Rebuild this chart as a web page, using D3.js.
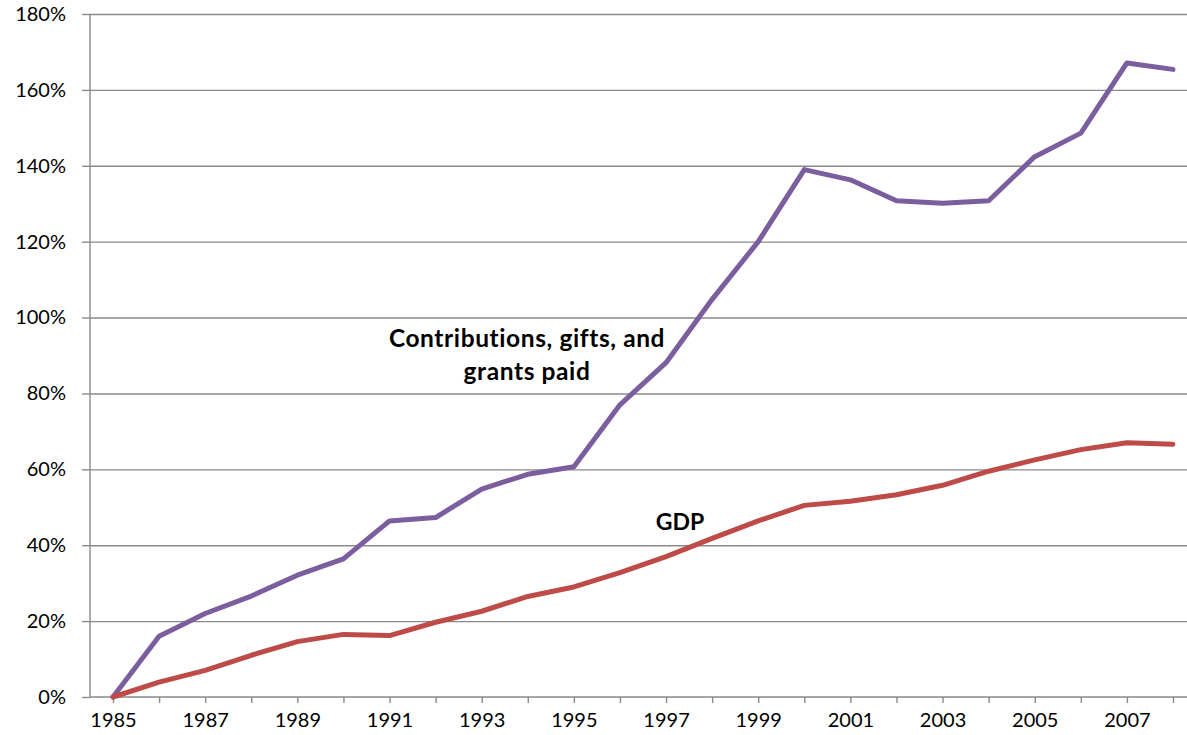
<!DOCTYPE html>
<html>
<head>
<meta charset="utf-8">
<title>Contributions vs GDP</title>
<style>
  body { margin: 0; background: #fff; }
  svg { display: block; }
  .tick text { font-family: Lato, "Open Sans", sans-serif; font-size: 20px; fill: #000; }
</style>
</head>
<body>
<script src="https://cdn.jsdelivr.net/npm/d3@7"></script>
<script>
// data (growth since 1985, in %)
var years = [1985, 1986, 1987, 1988, 1989, 1990, 1991, 1992, 1993, 1994, 1995, 1996,
             1997, 1998, 1999, 2000, 2001, 2002, 2003, 2004, 2005, 2006, 2007, 2008];
var contributions = [0, 16.0, 22.0, 26.6, 32.1, 36.4, 46.4, 47.3, 54.8, 58.7, 60.7, 77.0,
                     88.1, 104.8, 120.0, 139.0, 136.3, 130.8, 130.1, 130.8, 142.4, 148.6, 167.1, 165.4];
var gdp = [0, 3.9, 7.0, 11.0, 14.6, 16.5, 16.2, 19.7, 22.6, 26.5, 29.0, 32.8,
           37.0, 41.8, 46.4, 50.5, 51.6, 53.3, 55.8, 59.5, 62.5, 65.2, 67.0, 66.6];
var yTicks = [0, 20, 40, 60, 80, 100, 120, 140, 160, 180];
var xLabelYears = [1985, 1987, 1989, 1991, 1993, 1995, 1997, 1999, 2001, 2003, 2005, 2007];

var W = 1187, H = 735;
var plotLeft = 90, plotRight = 1187, plotTop = 14, plotBottom = 697;

var svg = d3.select("body").append("svg")
  .attr("width", W)
  .attr("height", H);

// scales
var x = d3.scaleLinear().domain([1985, 2008]).range([113, 1173]);
var y = d3.scaleLinear().domain([0, 180]).range([plotBottom, plotTop]);

// gridlines
svg.append("g")
  .attr("transform", "translate(" + plotLeft + ",0)")
  .call(d3.axisLeft(y).tickValues(yTicks.slice(1)).tickSize(-(plotRight - plotLeft)).tickFormat(""))
  .call(function(g){ g.select(".domain").remove(); })
  .selectAll("line")
  .attr("stroke", "#8a8a8a")
  .attr("stroke-width", 1.4);

// y axis
var yAxis = svg.append("g")
  .attr("transform", "translate(" + plotLeft + ",0)")
  .call(d3.axisLeft(y).tickValues(yTicks).tickSize(8).tickSizeOuter(0).tickPadding(16)
        .tickFormat(function(d){ return d + "%"; }));
yAxis.select(".domain").attr("stroke", "#8a8a8a").attr("stroke-width", 1.4)
  .attr("d", "M0," + y(0) + "V" + y(180));
yAxis.selectAll(".tick line").attr("stroke", "#8a8a8a").attr("stroke-width", 1.4);

// x axis
var xAxis = svg.append("g")
  .attr("transform", "translate(0," + plotBottom + ")")
  .call(d3.axisBottom(x).tickValues(years).tickSize(6).tickSizeOuter(0).tickPadding(10)
        .tickFormat(function(d){ return xLabelYears.indexOf(d) >= 0 ? d : ""; }));
xAxis.select(".domain").attr("stroke", "#8a8a8a").attr("stroke-width", 1.4)
  .attr("d", "M" + plotLeft + ",0H" + plotRight);
xAxis.selectAll(".tick line").attr("stroke", "#8a8a8a").attr("stroke-width", 1.4);

// lines
var line = d3.line()
  .x(function(d, i){ return x(years[i]); })
  .y(function(d){ return y(d); });

svg.append("path")
  .datum(contributions)
  .attr("fill", "none")
  .attr("stroke", "#7b5e9e")
  .attr("stroke-width", 5)
  .attr("stroke-linejoin", "round")
  .attr("stroke-linecap", "round")
  .attr("d", line);

svg.append("path")
  .datum(gdp)
  .attr("fill", "none")
  .attr("stroke", "#be4b48")
  .attr("stroke-width", 5)
  .attr("stroke-linejoin", "round")
  .attr("stroke-linecap", "round")
  .attr("d", line);

// labels
var labelFont = "Lato, 'Open Sans', sans-serif";
var contribLabel = svg.append("text")
  .attr("x", 527)
  .attr("y", 347)
  .attr("text-anchor", "middle")
  .style("font-family", labelFont)
  .style("font-weight", "700")
  .style("font-size", "24.5px")
  .style("letter-spacing", "0.6px");
contribLabel.append("tspan").attr("x", 527).text("Contributions, gifts, and");
contribLabel.append("tspan").attr("x", 527).attr("dy", 33).text("grants paid");

svg.append("text")
  .attr("x", 680)
  .attr("y", 530)
  .attr("text-anchor", "middle")
  .style("font-family", labelFont)
  .style("font-weight", "700")
  .style("font-size", "23px")
  .text("GDP");
</script>
</body>
</html>
